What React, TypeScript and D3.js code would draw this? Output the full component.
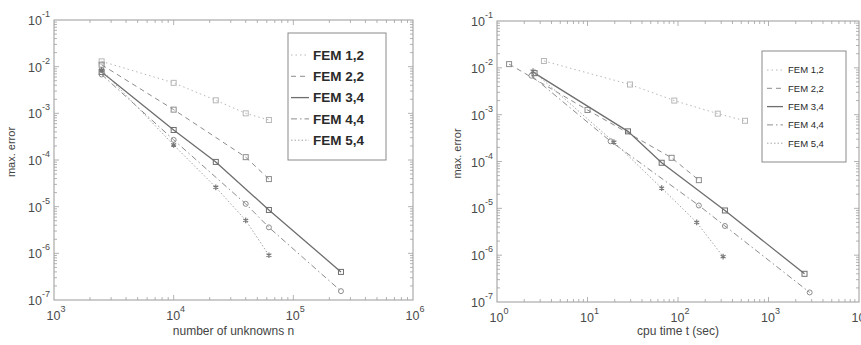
import * as d3 from "d3";

// series names
const SERIES = ["FEM 1,2", "FEM 2,2", "FEM 3,4", "FEM 4,4", "FEM 5,4"];

// left panel: number of unknowns n vs max. error
const N_12 = [2500, 10000, 22500, 40000, 62500];
const E_12 = [1.3e-2, 4.5e-3, 1.9e-3, 1.0e-3, 7.2e-4];
const N_22 = [2500, 10000, 40000, 62500];
const E_22 = [1.1e-2, 1.2e-3, 1.15e-4, 3.9e-5];
const N_34 = [2500, 10000, 22500, 62500, 250000];
const E_34 = [7.7e-3, 4.4e-4, 9.1e-5, 8.5e-6, 4.0e-7];
const N_44 = [2500, 10000, 40000, 62500, 250000];
const E_44 = [6.8e-3, 2.7e-4, 1.15e-5, 3.6e-6, 1.55e-7];
const N_54 = [2500, 10000, 22500, 40000, 62500];
const E_54 = [8.5e-3, 2.1e-4, 2.6e-5, 5.1e-6, 9.1e-7];

// right panel: cpu time t (sec) vs max. error
const T_12 = [3.3, 29.5, 91, 275, 550];
const TE_12 = [1.4e-2, 4.4e-3, 2.0e-3, 1.05e-3, 7.4e-4];
const T_22 = [1.36, 10, 85, 170];
const TE_22 = [1.2e-2, 1.26e-3, 1.2e-4, 4.0e-5];
const T_34 = [2.6, 28, 66, 330, 2500];
const TE_34 = [7.7e-3, 4.4e-4, 9.4e-5, 9.0e-6, 4.0e-7];
const T_44 = [2.4, 18, 170, 330, 2850];
const TE_44 = [6.8e-3, 2.7e-4, 1.15e-5, 4.2e-6, 1.6e-7];
const T_54 = [2.5, 19.6, 66, 161, 315];
const TE_54 = [8.5e-3, 2.6e-4, 2.7e-5, 5.0e-6, 9.3e-7];

const Y_EXP = [-1, -2, -3, -4, -5, -6, -7];

type Style = { color: string; dash: string; width: number; marker: "square" | "circle" | "star" };
const STYLES: Style[] = [
  { color: "#b8b8b8", dash: "1.5,3", width: 1, marker: "square" },
  { color: "#8c8c8c", dash: "5,4", width: 1, marker: "square" },
  { color: "#6e6e6e", dash: "", width: 1.3, marker: "square" },
  { color: "#8c8c8c", dash: "6,3,1.5,3", width: 1, marker: "circle" },
  { color: "#a5a5a5", dash: "1.5,2", width: 1, marker: "star" },
];

const FONT = "'Liberation Sans', Arial, Helvetica, sans-serif";

interface PanelProps {
  box: { left: number; right: number; top: number; bottom: number };
  xDomain: [number, number];
  xExps: number[];
  xs: number[][];
  ys: number[][];
  xTitle: string;
  yTitleX: number;
  legend: { x0: number; x1: number; y0: number; y1: number; rowY0: number; step: number; font: number; weight: number; lineX0: number; lineX1: number; textX: number };
}

function Panel({ box, xDomain, xExps, xs, ys, xTitle, yTitleX, legend }: PanelProps) {
  const x = d3.scaleLog().domain(xDomain).range([box.left, box.right]);
  const y = d3.scaleLog().domain([1e-7, 1e-1]).range([box.bottom, box.top]);
  const xMinor = x.ticks().filter((v) => v > xDomain[0] && v < xDomain[1]);
  const yMinor = y.ticks().filter((v) => v > 1e-7 && v < 1e-1);
  const isMajor = (v: number) => Math.abs(Math.log10(v) - Math.round(Math.log10(v))) < 1e-6;
  const tickCol = "#a0a0a0";

  return (
    <g>
      <rect x={box.left} y={box.top} width={box.right - box.left} height={box.bottom - box.top} fill="none" stroke="#9a9a9a" strokeWidth={1} />
      {xMinor.map((v, i) => {
        const len = isMajor(v) ? 5 : 3;
        const px = x(v);
        return (
          <g key={"xt" + i} stroke={tickCol} strokeWidth={0.8}>
            <line x1={px} x2={px} y1={box.bottom} y2={box.bottom - len} />
            <line x1={px} x2={px} y1={box.top} y2={box.top + len} />
          </g>
        );
      })}
      {yMinor.map((v, i) => {
        const len = isMajor(v) ? 5 : 3;
        const py = y(v);
        return (
          <g key={"yt" + i} stroke={tickCol} strokeWidth={0.8}>
            <line x1={box.left} x2={box.left + len} y1={py} y2={py} />
            <line x1={box.right} x2={box.right - len} y1={py} y2={py} />
          </g>
        );
      })}
      {Y_EXP.map((e) => (
        <text key={"yl" + e} x={box.left - 4} y={y(Math.pow(10, e)) + 5} textAnchor="end" fontFamily={FONT} fontSize={12.5} fill="#4a4a4a">
          10<tspan fontSize={9} dy={-8}>{e}</tspan>
        </text>
      ))}
      {xExps.map((e) => (
        <text key={"xl" + e} x={x(Math.pow(10, e)) + 2} y={box.bottom + 20} textAnchor="middle" fontFamily={FONT} fontSize={12.5} fill="#4a4a4a">
          10<tspan fontSize={9} dy={-8}>{e}</tspan>
        </text>
      ))}
      <text x={(box.left + box.right) / 2} y={335} textAnchor="middle" fontFamily={FONT} fontSize={12} fill="#444">
        {xTitle}
      </text>
      <text transform={`translate(${yTitleX},${(box.top + box.bottom) / 2 - 8}) rotate(-90)`} textAnchor="middle" fontFamily={FONT} fontSize={11} fill="#444">
        max. error
      </text>
      {xs.map((xv, si) => {
        const st = STYLES[si];
        const pts = xv.map((v, i) => [x(v), y(ys[si][i])] as [number, number]);
        const line = d3.line();
        return (
          <g key={"s" + si}>
            <path d={line(pts) || ""} fill="none" stroke={st.color} strokeWidth={st.width} strokeDasharray={st.dash} />
            {pts.map((p, i) => {
              if (st.marker === "square")
                return <rect key={i} x={p[0] - 2.5} y={p[1] - 2.5} width={5} height={5} fill="none" stroke={st.color} strokeWidth={1} />;
              if (st.marker === "circle")
                return <circle key={i} cx={p[0]} cy={p[1]} r={2.5} fill="none" stroke={st.color} strokeWidth={1} />;
              return <path key={i} transform={`translate(${p[0]},${p[1]})`} d={d3.symbol(d3.symbolAsterisk, 22)() || ""} fill="none" stroke="#777" strokeWidth={1.2} />;
            })}
          </g>
        );
      })}
      <rect x={legend.x0} y={legend.y0} width={legend.x1 - legend.x0} height={legend.y1 - legend.y0} fill="#fff" stroke="#8a8a8a" strokeWidth={1} />
      {SERIES.map((name, i) => {
        const st = STYLES[i];
        const ry = legend.rowY0 + i * legend.step;
        return (
          <g key={"lg" + i}>
            <line x1={legend.lineX0} x2={legend.lineX1} y1={ry} y2={ry} stroke={st.color} strokeWidth={st.width} strokeDasharray={st.dash} />
            <text x={legend.textX} y={ry + legend.font * 0.36} fontFamily={FONT} fontSize={legend.font} fontWeight={legend.weight} fill="#2a2a2a">
              {name}
            </text>
          </g>
        );
      })}
    </g>
  );
}

export default function App() {
  return (
    <svg width={861} height={345} style={{ position: "absolute", left: 0, top: 0, background: "#fff" }}>
      <rect width={861} height={345} fill="#fff" />
      <Panel
        box={{ left: 54, right: 413, top: 20, bottom: 300 }}
        xDomain={[1e3, 1e6]}
        xExps={[3, 4, 5, 6]}
        xs={[N_12, N_22, N_34, N_44, N_54]}
        ys={[E_12, E_22, E_34, E_44, E_54]}
        xTitle="number of unknowns n"
        yTitleX={15}
        legend={{ x0: 288, x1: 386, y0: 33, y1: 160, rowY0: 55, step: 21.3, font: 13.5, weight: 600, lineX0: 291, lineX1: 309, textX: 313 }}
      />
      <Panel
        box={{ left: 497, right: 859, top: 21, bottom: 302 }}
        xDomain={[1, 1e4]}
        xExps={[0, 1, 2, 3, 4]}
        xs={[T_12, T_22, T_34, T_44, T_54]}
        ys={[TE_12, TE_22, TE_34, TE_44, TE_54]}
        xTitle="cpu time t (sec)"
        yTitleX={461}
        legend={{ x0: 762, x1: 846, y0: 51, y1: 162, rowY0: 70, step: 18.3, font: 9.5, weight: 400, lineX0: 767, lineX1: 783, textX: 788 }}
      />
    </svg>
  );
}
